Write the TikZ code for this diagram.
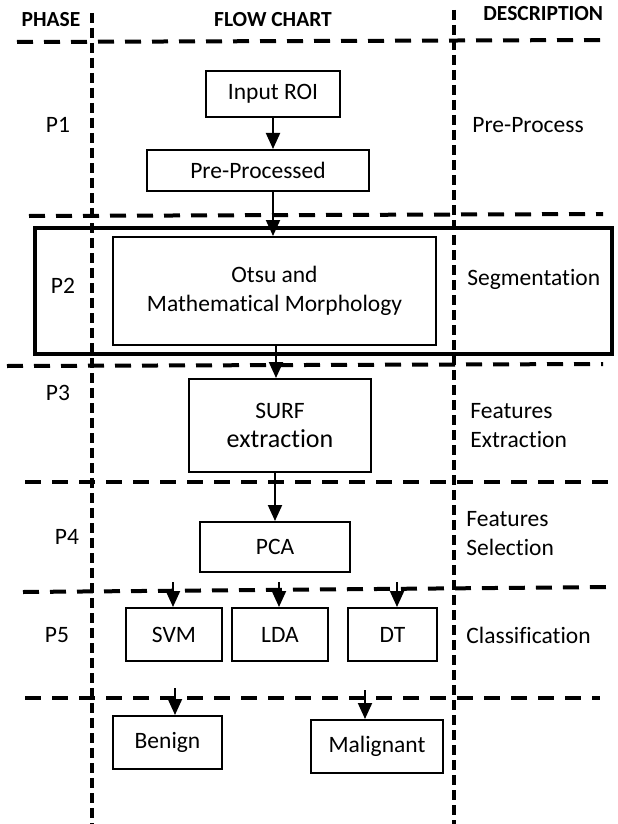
\documentclass[tikz,border=0pt]{standalone}
\usepackage{fontspec}
\setmainfont{Carlito}[RawFeature={-liga;-clig;-calt;-dlig}]
\usepackage{tikz}
\usetikzlibrary{positioning, arrows.meta}

\begin{document}
\begin{tikzpicture}[x=0.5pt, y=-0.5pt,
        font=\fontsize{11.75}{14.5}\selectfont, inner sep=0pt,
        box/.style={draw, line width=1pt, align=center},
        arr/.style={line width=1pt, -{Triangle[length=8pt, width=7pt]}},
        hsep/.style={line width=2pt, dash pattern=on 8pt off 5.5pt},
        vsep/.style={line width=2pt, dash pattern=on 5pt off 2.5pt},
        head/.style={font=\fontsize{10.75}{12}\selectfont\bfseries}]
    \useasboundingbox (0,0) rectangle (617,824);

    % column and row separators
    \draw[vsep] (92,13) -- (92,824);
    \draw[vsep] (454,10) -- (454,824);
    \foreach \xa/\ya/\xb/\yb in {17/42/605/40, 29/216/603/214, 7/366/603/364, 25/482/612/482, 23/592/612/587, 25/698/600/698} {
        \draw[hsep] (\xa,\ya) -- (\xb,\yb);
    }

    % headers
    \node[head] (hphase) at (51,20) {PHASE};
    \node[head] (hflow) at (273,20) {FLOW CHART};
    \node[head, anchor=west] (hdesc) at (483,14) {DESCRIPTION};

    % phases
    \foreach \i/\x/\y in {1/58/125, 2/63/286, 3/58/393, 4/67/537, 5/57/635} {
        \node (p\i) at (\x,\y) {P\i};
    }

    % segmentation frame
    \draw[line width=2pt] (35,228) rectangle (612,354);

    % flow chart
    \node[box, minimum width=67pt, minimum height=23pt] (inroi) at (273,94) {Input ROI};
    \node[box, minimum width=111pt, minimum height=20.5pt] (prep) at (258,170.5) {Pre-Processed};
    \node[box, minimum width=161.5pt, minimum height=54pt] (otsu) at (274.5,291) {Otsu and\\Mathematical Morphology};
    \node[box, minimum width=91pt, minimum height=46.5pt] (surf) at (280,425.5) {SURF\\{\fontsize{13}{15}\selectfont extraction}};
    \node[box, minimum width=75pt, minimum height=25pt] (pca) at (275,547) {PCA};
    \node[box, minimum width=48pt, minimum height=26.5pt] (svm) at (174,634.5) {SVM};
    \node[box, minimum width=48pt, minimum height=26.5pt] (lda) at (280,634.5) {LDA};
    \node[box, minimum width=44.5pt, minimum height=26.5pt] (dt) at (392.5,634.5) {DT};
    \node[box, minimum width=54.5pt, minimum height=26.5pt] (benign) at (167.5,742.5) {Benign};
    \node[box, minimum width=66pt, minimum height=26.5pt] (malig) at (377,746.5) {Malignant};

    \coordinate (tsvm) at (173,582);
    \coordinate (tlda) at (279,582);
    \coordinate (tdt) at (397,582);
    \coordinate (tben) at (175,688);
    \coordinate (tmal) at (365,690);

    \draw[arr] (inroi.south) -- (inroi.south |- prep.north);
    \draw[arr] (prep.south -| inroi.south) -- (otsu.north -| inroi.south);
    \draw[arr] (otsu.south -| 276,0) -- (surf.north -| 276,0);
    \draw[arr] (surf.south -| pca.north) -- (pca.north);
    \draw[arr] (tsvm) -- (tsvm |- svm.north);
    \draw[arr] (tlda) -- (tlda |- lda.north);
    \draw[arr] (tdt) -- (tdt |- dt.north);
    \draw[arr] (tben) -- (tben |- benign.north);
    \draw[arr] (tmal) -- (tmal |- malig.north);

    % descriptions
    \node[anchor=west] (dpre) at (472,125) {Pre-Process};
    \node[anchor=west] (dseg) at (467,279) {Segmentation};
    \node[anchor=west, align=left] (dext) at (470,425.5) {Features\\Extraction};
    \node[anchor=west, align=left] (dsel) at (466,533.5) {Features\\Selection};
    \node[anchor=west] (dcls) at (466,635) {Classification};
\end{tikzpicture}
\end{document}
